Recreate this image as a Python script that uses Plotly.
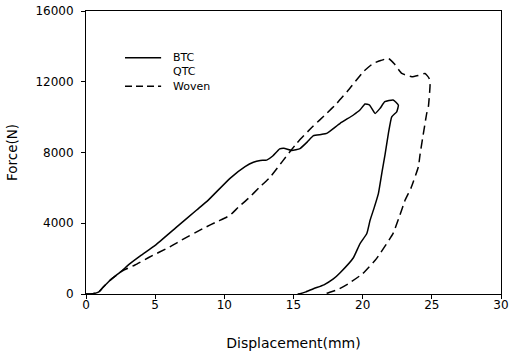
import plotly.graph_objects as go

# BTC (solid) : loading then unloading path, force in N
btc_x = [0, 0.5, 0.9, 1.2, 1.7, 2.2, 2.5, 3.2, 4.0, 5.0, 6.5, 8.0, 8.84, 10.41, 11.5, 12.1,
         12.6, 13.06, 13.5, 14.0, 14.3, 14.87, 15.47, 16.0, 16.44, 17.0, 17.4, 18.37, 19.33,
         19.8, 20.17, 20.5, 20.9, 21.26, 21.6, 22.2, 22.58, 22.46, 22.1, 21.86, 21.62, 21.4,
         21.14, 20.8, 20.54, 20.3, 19.81, 19.33, 18.37, 17.88, 17.2, 16.44, 15.9, 15.47, 15.3]
btc_y = [0, 20, 100, 350, 750, 1070, 1250, 1730, 2200, 2750, 3750, 4750, 5310, 6540, 7200, 7450,
         7550, 7570, 7800, 8200, 8240, 8120, 8220, 8600, 8950, 9020, 9080, 9650, 10120,
         10400, 10740, 10680, 10210, 10500, 10870, 10970, 10680, 10300, 10020, 9080, 7900, 6900,
         5690, 4800, 4180, 3420, 2850, 2050, 1200, 850, 520, 300, 120, 20, 0]

# Woven (dashed)
woven_x = [0, 0.5, 0.9, 1.2, 1.7, 2.2, 2.6, 3.54, 4.5, 6.07, 6.8, 8.48, 9.5, 10.41, 11.0, 11.74,
           12.5, 13.3, 14.2, 15.23, 16.3, 17.4, 18.13, 18.97, 20.05, 20.77, 21.3, 21.86, 22.3,
           22.83, 23.55, 24.0, 24.51, 24.8, 24.87, 24.75, 24.63, 24.15, 24.03, 23.5, 23.07,
           22.65, 22.2, 21.0, 20.0, 19.0, 18.2, 17.4, 17.1]
woven_y = [0, 20, 100, 350, 750, 1070, 1300, 1640, 2050, 2670, 3000, 3710, 4100, 4450, 4900, 5410,
           6000, 6600, 7500, 8520, 9400, 10210, 10780, 11530, 12570, 13040, 13200, 13320, 13000,
           12470, 12280, 12350, 12470, 12200, 11810, 10590, 10210, 7900, 7200, 6000, 5310,
           4370, 3430, 2000, 1150, 600, 250, 40, 0]

legend_names = ["BTC", "QTC", "Woven"]
x_ticks = [0, 5, 10, 15, 20, 25, 30]
x_tick_labels = ["0", "5", "10", "15", "20", "25", "30"]
y_ticks = [0, 4000, 8000, 12000, 16000]
y_tick_labels = ["0", "4000", "8000", "12000", "16000"]

FONT = "DejaVu Sans"

fig = go.Figure()
fig.add_trace(go.Scatter(x=btc_x, y=btc_y, mode="lines", name=legend_names[0],
                         line=dict(color="black", width=1.5, shape="spline", smoothing=0.4)))
fig.add_trace(go.Scatter(x=woven_x, y=woven_y, mode="lines", name=legend_names[2],
                         line=dict(color="black", width=1.5, dash="9px,5px", shape="spline", smoothing=0.4)))

# manual compact legend: one text block, line samples beside BTC and Woven
LEG_FS = 11
PLOT_H = 283.0
line_gap = LEG_FS * 1.3 / PLOT_H
leg_center = (294 - 72) / PLOT_H
fig.add_annotation(xref="paper", yref="paper", x=0.205, y=leg_center,
                   text="<br>".join(legend_names), showarrow=False, align="left",
                   xanchor="left", yanchor="middle",
                   font=dict(family=FONT, size=LEG_FS, color="black"))
for idx, st in [(0, "solid"), (2, "7px,4px")]:
    yy = leg_center + (1 - idx) * line_gap
    fig.add_shape(type="line", xref="paper", yref="paper", x0=0.094, x1=0.181, y0=yy, y1=yy,
                  line=dict(color="black", width=1.5, dash=st))

fig.update_layout(
    width=509, height=356,
    margin=dict(l=86, r=8, t=11, b=62),
    paper_bgcolor="white", plot_bgcolor="white",
    showlegend=False,
    font=dict(family=FONT, size=12, color="black"),
)
fig.update_xaxes(range=[0, 30], tickvals=x_ticks, ticktext=x_tick_labels, ticks="outside",
                 ticklen=4, tickwidth=1, automargin=False, ticklabelstandoff=-4,
                 tickcolor="black", showline=True, linecolor="black", linewidth=1, mirror=True,
                 showgrid=False, zeroline=False,
                 title=dict(text="Displacement(mm)", font=dict(family=FONT, size=14), standoff=26),
                 tickfont=dict(family=FONT, size=12))
fig.update_yaxes(range=[0, 16000], tickvals=y_ticks, ticktext=y_tick_labels, ticks="outside",
                 ticklen=4, tickwidth=1, automargin=False, ticklabelstandoff=5,
                 tickcolor="black", showline=True, linecolor="black", linewidth=1, mirror=True,
                 showgrid=False, zeroline=False,
                 title=dict(text="Force(N)", font=dict(family=FONT, size=13.5), standoff=14),
                 tickfont=dict(family=FONT, size=12))

# remove the browser's default 8px body margin so the figure sits at the page origin
fig.write_html("out.html", config={"displayModeBar": False},
               post_script="document.body.style.margin='0';")
